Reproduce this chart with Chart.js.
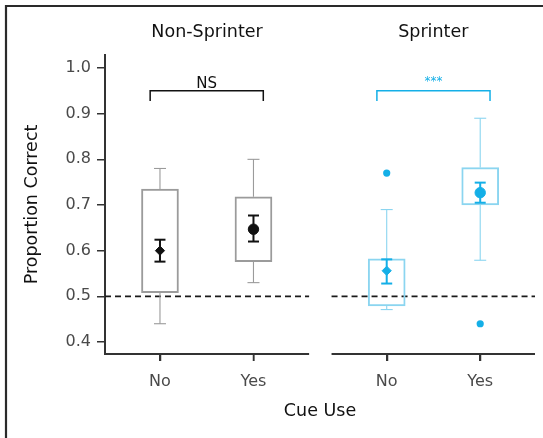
<!DOCTYPE html>
<html><head><meta charset="utf-8">
<script src="https://cdn.jsdelivr.net/npm/chart.js@4.4.1/dist/chart.umd.min.js"></script>
<style>html,body{margin:0;padding:0;background:#fff;}#wrap{width:543px;height:438px;position:relative;}</style>
</head><body><div id="wrap"><canvas id="c" width="543" height="438"></canvas></div>
<script>
// ---- data ----
const groups = ["Non-Sprinter", "Sprinter"];
const categories = ["No", "Yes"];
const yTickValues = [0.4, 0.5, 0.6, 0.7, 0.8, 0.9, 1.0];
const whiskerLow  = [[0.44, 0.53], [0.471, 0.579]];
const boxLow      = [[0.508, 0.576], [0.479, 0.700]];
const boxHigh     = [[0.735, 0.718], [0.582, 0.782]];
const whiskerHigh = [[0.78, 0.80], [0.69, 0.89]];
const meanValues  = [[0.600, 0.647], [0.556, 0.727]];
const seLow       = [[0.576, 0.620], [0.528, 0.705]];
const seHigh      = [[0.624, 0.677], [0.581, 0.749]];
const outlierValues = [[[], []], [[0.77], [0.44]]];
const chanceLevel = 0.5;
const sigLabels = ["NS", "***"];
const bracketTop = 0.95;
const bracketLow = 0.928;
const yAxisTitle = "Proportion Correct";
const xAxisTitle = "Cue Use";

// ---- layout / style ----
const FONT = "'DejaVu Sans', Verdana, sans-serif";
const X_MIN = 0.412, X_MAX = 5.011, GROUP_SHIFT = 2.425;
const PANEL_PAD_L = 0.59, PANEL_PAD_R = 0.595, BRACKET_PAD = 0.105;
const Y_MIN = 0.3737, Y_MAX = 1.0285;
const styles = [
  {box: '#9b9b9b', mark: '#111111', sig: '#111111', sigSize: 15},
  {box: '#8bd5f0', mark: '#14afe7', sig: '#14afe7', sigSize: 12}
];
const markerStyles = ['rectRot', 'circle'];
const markerRadius = [4.6, 5.2];

const xPos = (g, i) => g * GROUP_SHIFT + i + 1;
const panelRange = g => [Math.max(X_MIN, xPos(g, 0) - PANEL_PAD_L), Math.min(X_MAX, xPos(g, categories.length - 1) + PANEL_PAD_R)];

const datasets = [];
groups.forEach((gName, g) => {
  const st = styles[g];
  const idx = categories.map((c, i) => i);
  // mean markers
  datasets.push({type: 'scatter', order: 0,
    data: idx.map(i => ({x: xPos(g, i), y: meanValues[g][i]})),
    pointStyle: markerStyles, pointRadius: markerRadius,
    backgroundColor: st.mark, borderColor: st.mark, pointBorderWidth: 1});
  // SE bars
  datasets.push({type: 'line', order: 1,
    data: idx.flatMap(i => [{x: xPos(g, i), y: seLow[g][i]}, {x: xPos(g, i), y: seHigh[g][i]}, {x: xPos(g, i), y: null}]),
    borderColor: st.mark, borderWidth: 2, pointRadius: 0, spanGaps: false});
  datasets.push({type: 'scatter', order: 1,
    data: idx.flatMap(i => [{x: xPos(g, i), y: seLow[g][i]}, {x: xPos(g, i), y: seHigh[g][i]}]),
    pointStyle: 'line', pointRadius: 5.5, pointBorderWidth: 2, borderColor: st.mark});
  // outliers
  datasets.push({type: 'scatter', order: 2,
    data: idx.flatMap(i => outlierValues[g][i].map(v => ({x: xPos(g, i), y: v}))),
    pointStyle: 'circle', pointRadius: 3.6, backgroundColor: st.mark, borderColor: st.mark, pointBorderWidth: 0});
  // whisker caps
  datasets.push({type: 'scatter', order: 3,
    data: idx.flatMap(i => [{x: xPos(g, i), y: whiskerLow[g][i]}, {x: xPos(g, i), y: whiskerHigh[g][i]}]),
    pointStyle: 'line', pointRadius: 6, pointBorderWidth: 1.1, borderColor: st.box});
  // whiskers
  datasets.push({type: 'line', order: 4,
    data: idx.flatMap(i => [
      {x: xPos(g, i), y: boxHigh[g][i]}, {x: xPos(g, i), y: whiskerHigh[g][i]}, {x: xPos(g, i), y: null},
      {x: xPos(g, i), y: boxLow[g][i]}, {x: xPos(g, i), y: whiskerLow[g][i]}, {x: xPos(g, i), y: null}]),
    borderColor: st.box, borderWidth: 1.1, pointRadius: 0, spanGaps: false});
  // boxes
  datasets.push({type: 'bar', order: 5, grouped: false,
    data: idx.map(i => ({x: xPos(g, i), y: [boxLow[g][i], boxHigh[g][i]]})),
    backgroundColor: 'rgba(0,0,0,0)', borderColor: st.box, borderWidth: 1.3,
    borderSkipped: false, barThickness: 37});
  // chance line
  const pr = panelRange(g);
  datasets.push({type: 'line', order: 6,
    data: [{x: pr[0], y: chanceLevel}, {x: pr[1], y: chanceLevel}],
    borderColor: '#1a1a1a', borderWidth: 1.6, borderDash: [6, 4], pointRadius: 0});
  // significance bracket
  const b0 = xPos(g, 0) - BRACKET_PAD, b1 = xPos(g, categories.length - 1) + BRACKET_PAD;
  datasets.push({type: 'line', order: 6,
    data: [{x: b0, y: bracketLow}, {x: b0, y: bracketTop}, {x: b1, y: bracketTop}, {x: b1, y: bracketLow}],
    borderColor: st.sig, borderWidth: 1.5, pointRadius: 0});
});

const xTickValues = groups.flatMap((gName, g) => categories.map((c, i) => xPos(g, i)));

const decorPlugin = {
  id: 'decor',
  afterDraw(chart) {
    const {ctx, chartArea} = chart;
    const xs = chart.scales.x, ys = chart.scales.y;
    ctx.save();
    // frame (top and left)
    ctx.strokeStyle = '#2a2a2a'; ctx.lineWidth = 2.2;
    ctx.beginPath(); ctx.moveTo(6, 438); ctx.lineTo(6, 6); ctx.lineTo(543, 6); ctx.stroke();
    // x axis segments per panel
    ctx.strokeStyle = '#333'; ctx.lineWidth = 2;
    groups.forEach((gName, g) => {
      const pr = panelRange(g);
      const x0 = g === 0 ? chartArea.left - 1 : xs.getPixelForValue(pr[0]);
      ctx.beginPath();
      ctx.moveTo(x0, chartArea.bottom);
      ctx.lineTo(xs.getPixelForValue(pr[1]), chartArea.bottom);
      ctx.stroke();
    });
    // x tick marks
    ctx.lineWidth = 1.5;
    xTickValues.forEach(v => {
      const px = Math.round(xs.getPixelForValue(v)) + 0.5;
      ctx.beginPath(); ctx.moveTo(px, chartArea.bottom); ctx.lineTo(px, chartArea.bottom + 7); ctx.stroke();
    });
    // panel titles
    ctx.fillStyle = '#111'; ctx.textAlign = 'center'; ctx.textBaseline = 'middle';
    ctx.font = '17.5px ' + FONT;
    groups.forEach((gName, g) => {
      const pr = panelRange(g);
      ctx.fillText(gName, (xs.getPixelForValue(pr[0]) + xs.getPixelForValue(pr[1])) / 2, 32.5);
    });
    // significance labels
    ctx.textBaseline = 'alphabetic';
    groups.forEach((gName, g) => {
      const st = styles[g];
      ctx.fillStyle = st.sig;
      ctx.font = st.sigSize + 'px ' + FONT;
      const cx = (xs.getPixelForValue(xPos(g, 0)) + xs.getPixelForValue(xPos(g, categories.length - 1))) / 2;
      ctx.fillText(sigLabels[g], cx, ys.getPixelForValue(bracketTop) - (g === 0 ? 3 : 6));
    });
    ctx.restore();
  }
};

new Chart(document.getElementById('c'), {
  type: 'scatter',
  data: {datasets},
  plugins: [decorPlugin],
  options: {
    responsive: false, animation: false, events: [],
    layout: {padding: {top: 55, right: 8, left: 0, bottom: 0}},
    plugins: {legend: {display: false}, tooltip: {enabled: false}},
    scales: {
      x: {
        type: 'linear', min: X_MIN, max: X_MAX, offset: false,
        afterBuildTicks: s => { s.ticks = xTickValues.map(v => ({value: v})); },
        afterFit: s => { s.height = 84; },
        ticks: {autoSkip: false, maxRotation: 0, padding: 11, color: '#4a4a4a',
          font: {family: FONT, size: 16},
          callback: v => { const k = xTickValues.findIndex(t => Math.abs(t - v) < 1e-6); return k >= 0 ? categories[k % categories.length] : ''; }},
        grid: {drawOnChartArea: false, drawTicks: true, tickLength: 7, color: '#333', lineWidth: 1.5, offset: false},
        border: {display: false},
        title: {display: true, text: xAxisTitle, color: '#111', font: {family: FONT, size: 17.5}, padding: {top: 0, bottom: 16}}
      },
      y: {
        type: 'linear', min: Y_MIN, max: Y_MAX,
        afterBuildTicks: s => { s.ticks = yTickValues.map(v => ({value: v})); },
        afterFit: s => { s.width = 105; },
        ticks: {padding: 6, color: '#4a4a4a', font: {family: FONT, size: 16}, callback: v => Number(v).toFixed(1)},
        grid: {drawOnChartArea: false, drawTicks: true, tickLength: 8, color: '#333', lineWidth: 1.5},
        border: {display: true, color: '#333', width: 2},
        title: {display: true, text: yAxisTitle, color: '#111', font: {family: FONT, size: 17.5}, padding: {top: 22, bottom: 0}}
      }
    }
  }
});
</script></body></html>
